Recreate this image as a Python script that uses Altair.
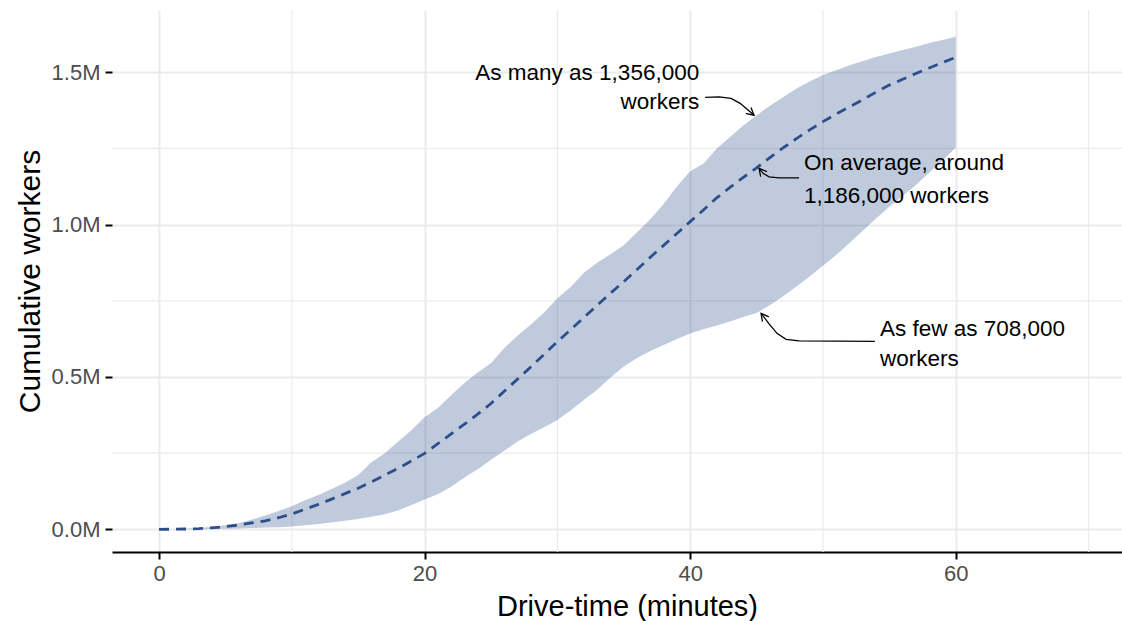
import math
import altair as alt
import pandas as pd

# ---------------- data ----------------
minutes = list(range(61))

upper = [0, 0.0005, 0.002, 0.004, 0.008, 0.013, 0.020, 0.032, 0.045, 0.060,
         0.076, 0.095, 0.113, 0.132, 0.153, 0.178, 0.220, 0.250, 0.287, 0.325,
         0.368, 0.398, 0.440, 0.480, 0.515, 0.545, 0.595, 0.635, 0.672, 0.712,
         0.758, 0.795, 0.842, 0.875, 0.903, 0.932, 0.975, 1.018, 1.068, 1.125,
         1.175, 1.200, 1.250, 1.288, 1.325, 1.358, 1.390, 1.418, 1.447, 1.470,
         1.491, 1.507, 1.523, 1.537, 1.550, 1.562, 1.573, 1.584, 1.596, 1.606,
         1.617]

mean = [0, 0.0003, 0.001, 0.002, 0.005, 0.009, 0.014, 0.021, 0.028, 0.038,
        0.050, 0.066, 0.082, 0.099, 0.117, 0.135, 0.156, 0.178, 0.200, 0.224,
        0.249, 0.281, 0.313, 0.345, 0.378, 0.413, 0.453, 0.493, 0.533, 0.574,
        0.616, 0.655, 0.695, 0.735, 0.775, 0.813, 0.853, 0.893, 0.932, 0.971,
        1.010, 1.048, 1.088, 1.122, 1.155, 1.186, 1.220, 1.252, 1.282, 1.311,
        1.338, 1.363, 1.387, 1.410, 1.435, 1.458, 1.477, 1.496, 1.514, 1.532,
        1.549]

lower = [0, 0, 0, 0.0005, 0.001, 0.002, 0.003, 0.004, 0.006, 0.007,
         0.009, 0.013, 0.017, 0.022, 0.028, 0.034, 0.041, 0.049, 0.062, 0.080,
         0.098, 0.115, 0.140, 0.170, 0.197, 0.228, 0.258, 0.288, 0.313, 0.335,
         0.359, 0.390, 0.425, 0.458, 0.498, 0.534, 0.562, 0.585, 0.605, 0.625,
         0.643, 0.657, 0.669, 0.682, 0.697, 0.710, 0.735, 0.765, 0.797, 0.830,
         0.865, 0.900, 0.940, 0.980, 1.020, 1.059, 1.094, 1.130, 1.170, 1.210,
         1.253]

major_x = [0, 20, 40, 60]
minor_x = [10, 30, 50, 70]
major_y = [0, 0.5, 1.0, 1.5]
minor_y = [0.25, 0.75, 1.25]

x_domain = [-3.54, 72.52]
y_domain = [-0.0745, 1.7045]

# annotation texts (data units)
ann_right_text = ["As many as 1,356,000", "workers"]
ann_right_x = [40.68, 40.68]
ann_right_y = [1.499, 1.401]

ann_left_text = ["On average, around", "1,186,000 workers",
                 "As few as 708,000", "workers"]
ann_left_x = [48.57, 48.57, 54.29, 54.29]
ann_left_y = [1.201, 1.093, 0.656, 0.558]

# curved arrow paths (data units), last point is the tip
arrow_paths = {
    "many": ([41.13, 42.18, 43.08, 43.76, 44.29, 44.81],
             [1.4178, 1.4194, 1.4145, 1.3981, 1.3784, 1.3587]),
    "avg": ([48.20, 46.69, 45.94, 45.49, 45.19],
            [1.1536, 1.1536, 1.1569, 1.1684, 1.1848]),
    "few": ([53.91, 48.20, 47.22, 46.54, 45.94, 45.34],
            [0.617, 0.6187, 0.6236, 0.6433, 0.6744, 0.7089]),
}

# ---------------- layout ----------------
W, H = 1010, 542
FONT = "Liberation Sans"
sx = W / (x_domain[1] - x_domain[0])
sy = H / (y_domain[1] - y_domain[0])

df = pd.DataFrame({"minutes": minutes, "upper": upper, "mean": mean, "lower": lower})

rows = []
head_rows = []
for name, (xs, ys) in arrow_paths.items():
    for i, (xv, yv) in enumerate(zip(xs, ys)):
        rows.append({"id": name, "o": i, "x": xv, "y": yv})
    # arrowhead (open V) computed in pixel space
    tx, ty = xs[-1], ys[-1]
    px, py = xs[-2], ys[-2]
    dx = (tx - px) * sx
    dy = -(ty - py) * sy
    L = math.hypot(dx, dy)
    ux, uy = dx / L, dy / L
    hl = 8.5
    ang = math.radians(28)
    wings = []
    for s in (1, -1):
        c, sn = math.cos(s * ang), math.sin(s * ang)
        rx = ux * c - uy * sn
        ry = ux * sn + uy * c
        wx = tx - hl * rx / sx
        wy = ty + hl * ry / sy
        wings.append((wx, wy))
    pts = [wings[0], (tx, ty), wings[1]]
    for i, (xv, yv) in enumerate(pts):
        head_rows.append({"id": name, "o": i, "x": xv, "y": yv})

arrow_df = pd.DataFrame(rows)
head_df = pd.DataFrame(head_rows)

xscale = alt.Scale(domain=x_domain, nice=False, zero=False)
yscale = alt.Scale(domain=y_domain, nice=False, zero=False)

x_axis = alt.Axis(
    values=major_x, grid=True, gridColor="#ebebeb", gridWidth=2,
    domain=True, domainColor="black", domainWidth=2,
    ticks=True, tickColor="black", tickSize=7, tickWidth=2,
    labelFont=FONT, labelFontSize=22, labelColor="#4d4d4d", labelPadding=4,
    title="Drive-time (minutes)", titleFont=FONT, titleFontSize=29,
    titleFontWeight="normal", titleColor="black",
    titleX=515, titleY=54, titleBaseline="middle", titleAlign="center",
)
y_axis = alt.Axis(
    values=major_y, grid=True, gridColor="#ebebeb", gridWidth=2,
    domain=False,
    ticks=True, tickColor="black", tickSize=7, tickWidth=2,
    labelFont=FONT, labelFontSize=22, labelColor="#4d4d4d", labelPadding=5,
    labelExpr="format(datum.value, '.1f') + 'M'",
    title="Cumulative workers", titleFont=FONT, titleFontSize=30,
    titleFontWeight="normal", titleColor="black",
    titleX=-82, titleY=271, titleBaseline="middle", titleAlign="center",
    titleAngle=270,
)


def X(field):
    return alt.X(field, scale=xscale, axis=x_axis)


def Y(field):
    return alt.Y(field, scale=yscale, axis=y_axis)


grid_x = alt.Chart(pd.DataFrame({"v": minor_x})).mark_rule(
    color="#ebebeb", strokeWidth=1.2
).encode(x=X("v:Q"))

grid_y = alt.Chart(pd.DataFrame({"v": minor_y})).mark_rule(
    color="#ebebeb", strokeWidth=1.2
).encode(y=Y("v:Q"))

band = alt.Chart(df).mark_area(color="#2E5090", opacity=0.3).encode(
    x=X("minutes:Q"),
    y=Y("lower:Q"),
    y2="upper:Q",
)

line = alt.Chart(df).mark_line(
    color="#2c4f8c", strokeWidth=2.8, strokeDash=[10, 7]
).encode(x=X("minutes:Q"), y=Y("mean:Q"))

arrows = alt.Chart(arrow_df).mark_line(color="black", strokeWidth=1.3).encode(
    x=X("x:Q"), y=Y("y:Q"), detail="id:N", order="o:Q",
)

heads = alt.Chart(head_df).mark_line(color="black", strokeWidth=1.3).encode(
    x=X("x:Q"), y=Y("y:Q"), detail="id:N", order="o:Q",
)

txt_r = alt.Chart(pd.DataFrame({"x": ann_right_x, "y": ann_right_y, "t": ann_right_text})).mark_text(
    align="right", baseline="middle", font=FONT, fontSize=22.5, color="black"
).encode(x=X("x:Q"), y=Y("y:Q"), text="t:N")

txt_l = alt.Chart(pd.DataFrame({"x": ann_left_x, "y": ann_left_y, "t": ann_left_text})).mark_text(
    align="left", baseline="middle", font=FONT, fontSize=22.5, color="black"
).encode(x=X("x:Q"), y=Y("y:Q"), text="t:N")

chart = alt.layer(grid_x, grid_y, band, line, arrows, heads, txt_r, txt_l).properties(
    width=W, height=H,
    autosize=alt.AutoSizeParams(type="none"),
    padding={"left": 112, "top": 10, "right": 0, "bottom": 69},
    background="white",
).configure_view(stroke=None)

chart.save("out.html", embed_options={"renderer": "svg", "actions": False})
